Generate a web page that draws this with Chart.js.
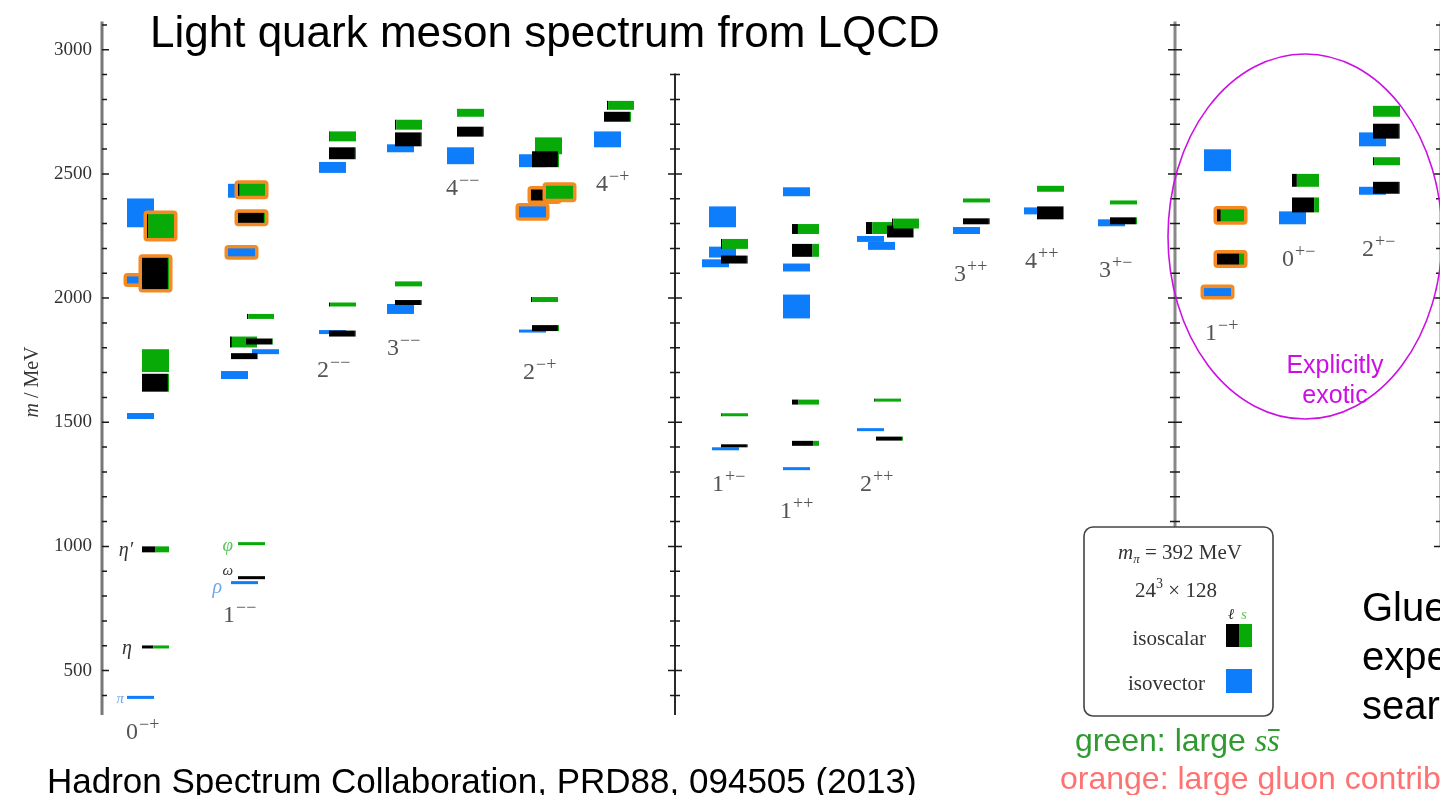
<!DOCTYPE html>
<html>
<head>
<meta charset="utf-8">
<title>Light quark meson spectrum</title>
<script src="https://cdn.jsdelivr.net/npm/chart.js@4.4.1/dist/chart.umd.min.js"></script>
<style>
  html, body { margin: 0; padding: 0; background: #fff; }
  #spectrum { display: block; }
</style>
</head>
<body>
<canvas id="spectrum" width="1440" height="795"></canvas>
<script>
// ---- data -------------------------------------------------------------
const massTicks = [500, 1000, 1500, 2000, 2500, 3000];
const massMin = 321;
const massMax = 3114;

const channels = ['0-+', '1--', '2--', '3--', '4--', '2-+', '4-+',
                  '1+-', '1++', '2++', '3++', '4++', '3+-',
                  '1-+', '0+-', '2+-'];

// isovector levels: channel, mass (MeV), half-height of the band (MeV)
const isovector = [
  ['0-+', 392, 4], ['0-+', 1525, 12], ['0-+', 2073, 14], ['0-+', 2343, 58],
  ['1--', 854, 4], ['1--', 1690, 16], ['1--', 1784, 10], ['1--', 2184, 16], ['1--', 2432, 28],
  ['2--', 1863, 8], ['2--', 2526, 22],
  ['3--', 1956, 20], ['3--', 2603, 16],
  ['4--', 2573, 34],
  ['2-+', 1867, 6], ['2-+', 2347, 22], ['2-+', 2553, 26],
  ['4-+', 2639, 32],
  ['1+-', 1393, 4], ['1+-', 2185, 22], ['1+-', 2140, 16], ['1+-', 2327, 42],
  ['1++', 1313, 4], ['1++', 1966, 48], ['1++', 2123, 16], ['1++', 2428, 18],
  ['2++', 1470, 6], ['2++', 2238, 12], ['2++', 2210, 16],
  ['3++', 2272, 14],
  ['4++', 2351, 14],
  ['3+-', 2303, 14],
  ['1-+', 2024, 16], ['1-+', 2555, 44],
  ['0+-', 2323, 26],
  ['2+-', 2432, 16], ['2+-', 2639, 28]
];

// isoscalar levels: channel, mass (MeV), half-height (MeV), s-sbar fraction
const isoscalar = [
  ['0-+', 595, 3, 0.58], ['0-+', 988, 12, 0.5], ['0-+', 1659, 36, 0.04], ['0-+', 1748, 46, 1],
  ['0-+', 2099, 63, 0.04], ['0-+', 2290, 48, 0.95],
  ['1--', 874, 4, 0], ['1--', 1011, 4, 1], ['1--', 1766, 12, 0.02], ['1--', 1823, 22, 0.93],
  ['1--', 1825, 12, 0.02], ['1--', 1926, 10, 0.95], ['1--', 2323, 20, 0.04], ['1--', 2436, 24, 0.94],
  ['2--', 1857, 12, 0.04], ['2--', 1974, 8, 0.96], ['2--', 2583, 24, 0.04], ['2--', 2651, 20, 0.97],
  ['3--', 1982, 10, 0.04], ['3--', 2057, 10, 1], ['3--', 2639, 28, 0.04], ['3--', 2698, 20, 0.95],
  ['4--', 2670, 20, 0.04], ['4--', 2746, 16, 1],
  ['2-+', 1879, 12, 0.04], ['2-+', 1994, 10, 0.96], ['2-+', 2415, 22, 0], ['2-+', 2426, 26, 1],
  ['2-+', 2613, 34, 1], ['2-+', 2559, 32, 0.04],
  ['4-+', 2730, 20, 0.04], ['4-+', 2776, 18, 0.96],
  ['1+-', 1530, 5, 0.97], ['1+-', 1405, 6, 0.04], ['1+-', 2218, 20, 0.96], ['1+-', 2155, 16, 0.04],
  ['1++', 1581, 10, 0.76], ['1++', 1415, 10, 0.22], ['1++', 2278, 20, 0.78], ['1++', 2192, 26, 0.24],
  ['2++', 1589, 5, 0.97], ['2++', 1434, 8, 0.04], ['2++', 2282, 24, 0.77], ['2++', 2268, 24, 0.03],
  ['2++', 2300, 20, 0.95],
  ['3++', 2309, 12, 0.04], ['3++', 2393, 8, 1],
  ['4++', 2343, 26, 0.03], ['4++', 2440, 12, 1],
  ['3+-', 2311, 14, 0.04], ['3+-', 2385, 8, 1],
  ['1-+', 2157, 22, 0.17], ['1-+', 2333, 24, 0.86],
  ['0+-', 2375, 30, 0.18], ['0+-', 2474, 26, 0.82],
  ['2+-', 2444, 24, 0.04], ['2+-', 2551, 16, 0.96], ['2+-', 2672, 30, 0.04], ['2+-', 2752, 22, 1]
];

// levels with a large gluonic component: channel, mass
const gluonic = [
  ['0-+', 2073], ['0-+', 2099], ['0-+', 2290],
  ['1--', 2184], ['1--', 2323], ['1--', 2436],
  ['2-+', 2347], ['2-+', 2415], ['2-+', 2426],
  ['1-+', 2024], ['1-+', 2157], ['1-+', 2333]
];

// named ground states: symbol, channel, mass
const namedStates = [
  ['π', '0-+', 392], ['η', '0-+', 595], ['η′', '0-+', 988],
  ['ρ', '1--', 854], ['ω', '1--', 874], ['φ', '1--', 1011]
];

// ---- layout (horizontal slots, 0 = mass axis) --------------------------
const BOX = 27;
const columnSlot = {
  '0-+': 25, '1--': 126, '2--': 217, '3--': 285, '4--': 345, '2-+': 417, '4-+': 492,
  '1+-': 607, '1++': 681, '2++': 755, '3++': 851, '4++': 922, '3+-': 996,
  '1-+': 1102, '0+-': 1177, '2+-': 1257
};
const isoscalarShift = {
  '0-+': 15, '1--': 10, '2--': 10, '3--': 8, '4--': 10, '2-+': 13, '4-+': 11,
  '1+-': 12, '1++': 9, '2++': 18, '3++': 10, '4++': 13, '3+-': 12,
  '1-+': 13, '0+-': 13, '2+-': 14
};
// levels nudged sideways so overlapping bands stay visible
const levelShift = {
  '0-+:2290': 20,
  '1--:854': 3, '1--:1690': -7, '1--:1784': 24, '1--:1766': 3, '1--:1823': 2,
  '1--:1825': 18, '1--:1926': 19,
  '2-+:2426': 27, '2-+:2613': 16, '2-+:1879': 13, '2-+:1994': 12, '2-+:2415': 12,
  '4-+:2730': 10, '4-+:2776': 13,
  '1+-:2140': -7, '1+-:1393': 3,
  '2++:2210': 11, '2++:1589': 17, '2++:1434': 19, '2++:2282': 9, '2++:2268': 30, '2++:2300': 35
};
// channel label anchor: slot, mass of the baseline
const labelAt = {
  '0-+': [24, 226], '1--': [121, 695], '2--': [215, 1684], '3--': [285, 1771],
  '4--': [344, 2415], '2-+': [421, 1676], '4-+': [494, 2431],
  '1+-': [610, 1223], '1++': [678, 1116], '2++': [758, 1223],
  '3++': [852, 2069], '4++': [923, 2121], '3+-': [997, 2085],
  '1-+': [1103, 1831], '0+-': [1180, 2129], '2+-': [1260, 2169]
};
// symbol styling: gap to the band, vertical offset, size, colour
const nameStyle = {
  'π': [3, 1, 15, '#6fa6f2'], 'η': [10, 1, 20, '#333'], 'η′': [9, 1, 20, '#333'],
  'ρ': [9, 4, 20, '#6fa6f2'], 'ω': [5, -7, 15, '#333'], 'φ': [5, 2, 19, '#5cc45c']
};
// vertical rulers: slot, lowest mass, highest mass
const dividers = [[573, massMin, 2904], [1073, 1068, massMax], [1339, 1000, massMax]];

const BLUE = '#0d7dfc';
const GREEN = '#08aa08';
const ORANGE = '#f58a22';
const SERIF = '"Liberation Serif"';
const SANS = '"Liberation Sans"';

// ---- drawing helpers ---------------------------------------------------
function isGluonic(ch, m) {
  return gluonic.some(g => g[0] === ch && g[1] === m);
}

function shiftOf(ch, m, base) {
  const key = ch + ':' + m;
  return key in levelShift ? levelShift[key] : base;
}

function bandRect(xs, ys, ch, m, err, dx) {
  const x0 = xs.getPixelForValue(columnSlot[ch] + dx);
  const x1 = xs.getPixelForValue(columnSlot[ch] + dx + BOX);
  let y0 = ys.getPixelForValue(m + err);
  let y1 = ys.getPixelForValue(m - err);
  if (y1 - y0 < 3) {
    const c = (y0 + y1) / 2;
    y0 = c - 1.5; y1 = c + 1.5;
  }
  return { x0, x1, y0, y1 };
}

function gluonFrame(ctx, r) {
  ctx.fillStyle = ORANGE;
  ctx.beginPath();
  ctx.roundRect(r.x0 - 3.5, r.y0 - 3.5, r.x1 - r.x0 + 7, r.y1 - r.y0 + 7, 4);
  ctx.fill();
}

function ruler(ctx, xs, ys, slot, lo, hi, color, width, twoSided) {
  const x = xs.getPixelForValue(slot);
  ctx.beginPath();
  ctx.strokeStyle = color;
  ctx.lineWidth = width;
  ctx.moveTo(x, ys.getPixelForValue(hi));
  ctx.lineTo(x, ys.getPixelForValue(lo));
  ctx.stroke();
  ctx.beginPath();
  ctx.strokeStyle = '#1a1a1a';
  ctx.lineWidth = 1.5;
  for (let m = Math.ceil(lo / 100) * 100; m <= hi; m += 100) {
    const y = ys.getPixelForValue(m);
    const len = m % 500 === 0 ? 7 : 5;
    ctx.moveTo(x - (twoSided ? len : 0), y);
    ctx.lineTo(x + len, y);
  }
  ctx.stroke();
}

function jpcLabel(ctx, x, y, ch) {
  const sign = c => (c === '-' ? '−' : '+');
  ctx.fillStyle = '#555';
  ctx.font = '24px ' + SERIF;
  ctx.fillText(ch[0], x, y);
  const w = ctx.measureText(ch[0]).width;
  ctx.font = '18px ' + SERIF;
  ctx.fillText(sign(ch[1]) + sign(ch[2]), x + w + 1, y - 9);
}

const spectrumPlugin = {
  id: 'spectrum',
  afterDraw(chart) {
    const { ctx } = chart;
    const xs = chart.scales.x;
    const ys = chart.scales.y;
    ctx.save();
    ctx.textBaseline = 'alphabetic';

    // mass axis and panel rulers
    ruler(ctx, xs, ys, 0, massMin, massMax, '#777', 3, false);
    ruler(ctx, xs, ys, dividers[0][0], dividers[0][1], dividers[0][2], '#2a2a2a', 2, true);
    ruler(ctx, xs, ys, dividers[1][0], dividers[1][1], dividers[1][2], '#888', 3, true);
    ruler(ctx, xs, ys, dividers[2][0], dividers[2][1], dividers[2][2], '#888', 3, true);

    // axis title
    ctx.save();
    ctx.translate(31, 382);
    ctx.rotate(-Math.PI / 2);
    ctx.fillStyle = '#333';
    ctx.font = 'italic 20px ' + SERIF;
    const mW = ctx.measureText('m').width;
    ctx.font = '20px ' + SERIF;
    const restW = ctx.measureText(' / MeV').width;
    const start = -(mW + restW) / 2;
    ctx.font = 'italic 20px ' + SERIF;
    ctx.fillText('m', start, 7);
    ctx.font = '20px ' + SERIF;
    ctx.fillText(' / MeV', start + mW, 7);
    ctx.restore();

    // isovector bands
    isovector.forEach(([ch, m, err]) => {
      const r = bandRect(xs, ys, ch, m, err, shiftOf(ch, m, 0));
      if (isGluonic(ch, m)) gluonFrame(ctx, r);
      ctx.fillStyle = BLUE;
      ctx.fillRect(r.x0, r.y0, r.x1 - r.x0, r.y1 - r.y0);
    });

    // isoscalar bands: light part black, strange part green
    isoscalar.forEach(([ch, m, err, s]) => {
      const r = bandRect(xs, ys, ch, m, err, shiftOf(ch, m, isoscalarShift[ch]));
      if (isGluonic(ch, m)) gluonFrame(ctx, r);
      const split = r.x0 + (r.x1 - r.x0) * (1 - s);
      ctx.fillStyle = '#000';
      ctx.fillRect(r.x0, r.y0, split - r.x0, r.y1 - r.y0);
      ctx.fillStyle = GREEN;
      ctx.fillRect(split, r.y0, r.x1 - split, r.y1 - r.y0);
    });

    // state symbols
    namedStates.forEach(([sym, ch, m]) => {
      const inIso = isoscalar.some(l => l[0] === ch && l[1] === m);
      const dx = shiftOf(ch, m, inIso ? isoscalarShift[ch] : 0);
      const [gap, dy, size, color] = nameStyle[sym];
      const x = xs.getPixelForValue(columnSlot[ch] + dx) - gap;
      const y = ys.getPixelForValue(m) + dy;
      ctx.font = 'italic ' + size + 'px ' + SERIF;
      ctx.fillStyle = color;
      ctx.textAlign = 'right';
      ctx.fillText(sym, x, y + size * 0.3);
      ctx.textAlign = 'left';
    });

    // J^PC labels
    channels.forEach(ch => {
      const [slot, m] = labelAt[ch];
      jpcLabel(ctx, xs.getPixelForValue(slot), ys.getPixelForValue(m), ch);
    });

    // exotic region
    const cx = xs.getPixelForValue(1203), cy = ys.getPixelForValue(2248);
    const rx = xs.getPixelForValue(1203 + 137) - cx;
    const ry = ys.getPixelForValue(2248) - ys.getPixelForValue(2248 + 735);
    ctx.beginPath();
    ctx.strokeStyle = '#cc10e4';
    ctx.lineWidth = 1.6;
    ctx.ellipse(cx, cy, rx, ry, 0, 0, Math.PI * 2);
    ctx.stroke();
    ctx.fillStyle = '#cc10e4';
    ctx.font = '25px ' + SANS;
    ctx.textAlign = 'center';
    ctx.fillText('Explicitly', xs.getPixelForValue(1233), ys.getPixelForValue(1724) + 6);
    ctx.fillText('exotic', xs.getPixelForValue(1233), ys.getPixelForValue(1600) + 6);
    ctx.textAlign = 'left';

    // key box
    ctx.beginPath();
    ctx.strokeStyle = '#444';
    ctx.lineWidth = 1.6;
    ctx.fillStyle = '#fff';
    ctx.roundRect(1084, 527, 189, 189, 9);
    ctx.fill();
    ctx.stroke();

    ctx.fillStyle = '#333';
    ctx.font = 'italic 21px ' + SERIF;
    const wm = ctx.measureText('m').width;
    ctx.font = 'italic 13px ' + SERIF;
    const wpi = ctx.measureText('π').width;
    ctx.font = '21px ' + SERIF;
    const weq = ctx.measureText(' = 392 MeV').width;
    let lx = 1180 - (wm + wpi + weq) / 2;
    ctx.font = 'italic 21px ' + SERIF;
    ctx.fillText('m', lx, 559);
    ctx.font = 'italic 13px ' + SERIF;
    ctx.fillText('π', lx + wm, 563);
    ctx.font = '21px ' + SERIF;
    ctx.fillText(' = 392 MeV', lx + wm + wpi, 559);

    const w24 = ctx.measureText('24').width;
    const wx = ctx.measureText(' × 128').width;
    ctx.font = '14px ' + SERIF;
    const w3 = ctx.measureText('3').width;
    lx = 1176 - (w24 + w3 + wx) / 2;
    ctx.font = '21px ' + SERIF;
    ctx.fillText('24', lx, 597);
    ctx.font = '14px ' + SERIF;
    ctx.fillText('3', lx + w24, 588);
    ctx.font = '21px ' + SERIF;
    ctx.fillText(' × 128', lx + w24 + w3, 597);

    ctx.textAlign = 'right';
    ctx.fillText('isoscalar', 1206, 645);
    ctx.fillText('isovector', 1205, 690);
    ctx.textAlign = 'left';
    ctx.font = 'italic 15px ' + SERIF;
    ctx.fillStyle = '#222';
    ctx.fillText('ℓ', 1228, 619);
    ctx.fillStyle = '#5cc45c';
    ctx.fillText('s', 1241, 619);
    ctx.fillStyle = '#000';
    ctx.fillRect(1226, 624, 13, 23);
    ctx.fillStyle = GREEN;
    ctx.fillRect(1239, 624, 13, 23);
    ctx.fillStyle = BLUE;
    ctx.fillRect(1226, 669, 26, 24);

    // notes
    ctx.fillStyle = '#000';
    ctx.font = '44px ' + SANS;
    ctx.fillText('Light quark meson spectrum from LQCD', 150, 47);
    ctx.font = '35px ' + SANS;
    ctx.fillText('Hadron Spectrum Collaboration, PRD88, 094505 (2013)', 47, 793);
    ctx.font = '40px ' + SANS;
    ctx.fillText('Glueballs:', 1362, 621);
    ctx.fillText('expected', 1362, 670);
    ctx.fillText('search', 1362, 719);

    ctx.fillStyle = '#2f9a2f';
    ctx.font = '32px ' + SANS;
    ctx.fillText('green: large ', 1075, 751);
    const gw = ctx.measureText('green: large ').width;
    ctx.font = 'italic 32px ' + SERIF;
    const sw = ctx.measureText('s').width;
    ctx.fillText('ss', 1075 + gw, 751);
    ctx.fillRect(1075 + gw + sw + 1, 729, sw - 1, 2);

    ctx.fillStyle = '#ff7272';
    ctx.font = '32px ' + SANS;
    ctx.fillText('orange: large gluon contribution', 1060, 789);

    ctx.restore();
  }
};

new Chart(document.getElementById('spectrum'), {
  type: 'scatter',
  data: { datasets: [] },
  options: {
    responsive: false,
    animation: false,
    devicePixelRatio: 1,
    layout: { padding: { top: 12, bottom: 80, left: 0, right: 0 } },
    plugins: { legend: { display: false }, tooltip: { enabled: false }, title: { display: false } },
    scales: {
      x: { type: 'linear', min: 0, max: 1338, display: false },
      y: {
        type: 'linear',
        min: massMin,
        max: massMax,
        afterFit: s => { s.width = 102; },
        afterBuildTicks: s => { s.ticks = massTicks.map(v => ({ value: v })); },
        grid: { display: false, drawTicks: false },
        border: { display: false },
        ticks: {
          padding: 10,
          color: '#333',
          font: { family: 'Liberation Serif', size: 19 },
          callback: v => String(v)
        }
      }
    }
  },
  plugins: [spectrumPlugin]
});
</script>
</body>
</html>
